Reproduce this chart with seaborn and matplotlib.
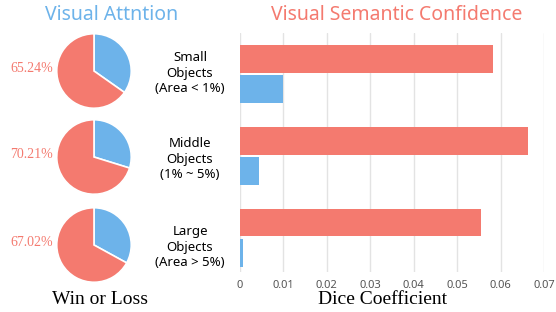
import pandas as pd
import matplotlib
matplotlib.use("Agg")
import matplotlib.pyplot as plt
import seaborn as sns

# data
categories = ["Small\nObjects\n(Area < 1%)", "Middle\nObjects\n(1% ~ 5%)", "Large\nObjects\n(Area > 5%)"]
win_rate = [65.24, 70.21, 67.02]
dice_win = [0.0583, 0.0663, 0.0555]
dice_loss = [0.0100, 0.0044, 0.0008]
xticks = [0, 0.01, 0.02, 0.03, 0.04, 0.05, 0.06, 0.07]

RED = "#F47A6F"
BLUE = "#6DB3EA"
TITLE_FONT = ["Noto Sans", "DejaVu Sans"]
SERIF = ["Liberation Serif", "DejaVu Serif"]

sns.set_theme(style="white")
plt.rcParams["font.family"] = TITLE_FONT

W, H = 556, 312
fig = plt.figure(figsize=(W / 100, H / 100), dpi=100)


def box(x0, y0, x1, y1):
    """pixel box (top-left origin) -> figure rect"""
    return [x0 / W, 1 - y1 / H, (x1 - x0) / W, (y1 - y0) / H]


# pies on the left
pie_centers = [71, 157, 245]
r = 38
for i, cy in enumerate(pie_centers):
    ax = fig.add_axes(box(94 - r, cy - r, 94 + r, cy + r))
    ax.pie([100 - win_rate[i], win_rate[i]], colors=[BLUE, RED], startangle=90,
           counterclock=False, wedgeprops=dict(edgecolor="white", linewidth=1.2))
    ax.set_xlim(-1.02, 1.02)
    ax.set_ylim(-1.02, 1.02)
    ax.set_aspect("equal")
    fig.text(53 / W, 1 - (cy - 2) / H, f"{win_rate[i]:.2f}%", ha="right", va="center",
             color=RED, fontsize=10, family=SERIF)
    fig.text(190 / W, 1 - (cy + 2) / H, categories[i], ha="center", va="center",
             fontsize=9.5, linespacing=1.25, color="black")

# bars on the right
df = pd.DataFrame({
    "category": categories * 2,
    "series": ["Win"] * 3 + ["Loss"] * 3,
    "dice": dice_win + dice_loss,
})
ax = fig.add_axes(box(240, 33, 544, 272))
sns.barplot(data=df, x="dice", y="category", hue="series", orient="h",
            palette={"Win": RED, "Loss": BLUE}, width=0.74, gap=0.08,
            linewidth=0, saturation=1, legend=False, ax=ax)
ax.set_xlim(0, 0.07)
ax.set_ylim(2.42, -0.5)
ax.set_xticks(xticks)
ax.set_xticklabels(["0"] + [f"{t:.2f}" for t in xticks[1:]])
ax.set_yticks([])
ax.set_ylabel("")
ax.set_xlabel("")
ax.grid(axis="x", color="#e3e3e3", linewidth=1)
ax.set_axisbelow(True)
for s in ax.spines.values():
    s.set_visible(False)
ax.tick_params(axis="x", length=0, pad=6, labelsize=8, labelcolor="#555555")

# titles and bottom labels
fig.text(112 / W, 1 - 15 / H, "Visual Attntion", ha="center", va="center",
         color=BLUE, fontsize=14)
fig.text(397 / W, 1 - 15 / H, "Visual Semantic Confidence", ha="center", va="center",
         color=RED, fontsize=14)
fig.text(100 / W, 1 - 299 / H, "Win or Loss", ha="center", va="center",
         fontsize=14, family=SERIF, color="black")
fig.text(383 / W, 1 - 299 / H, "Dice Coefficient", ha="center", va="center",
         fontsize=14, family=SERIF, color="black")

fig.savefig("out.png", dpi=100)
